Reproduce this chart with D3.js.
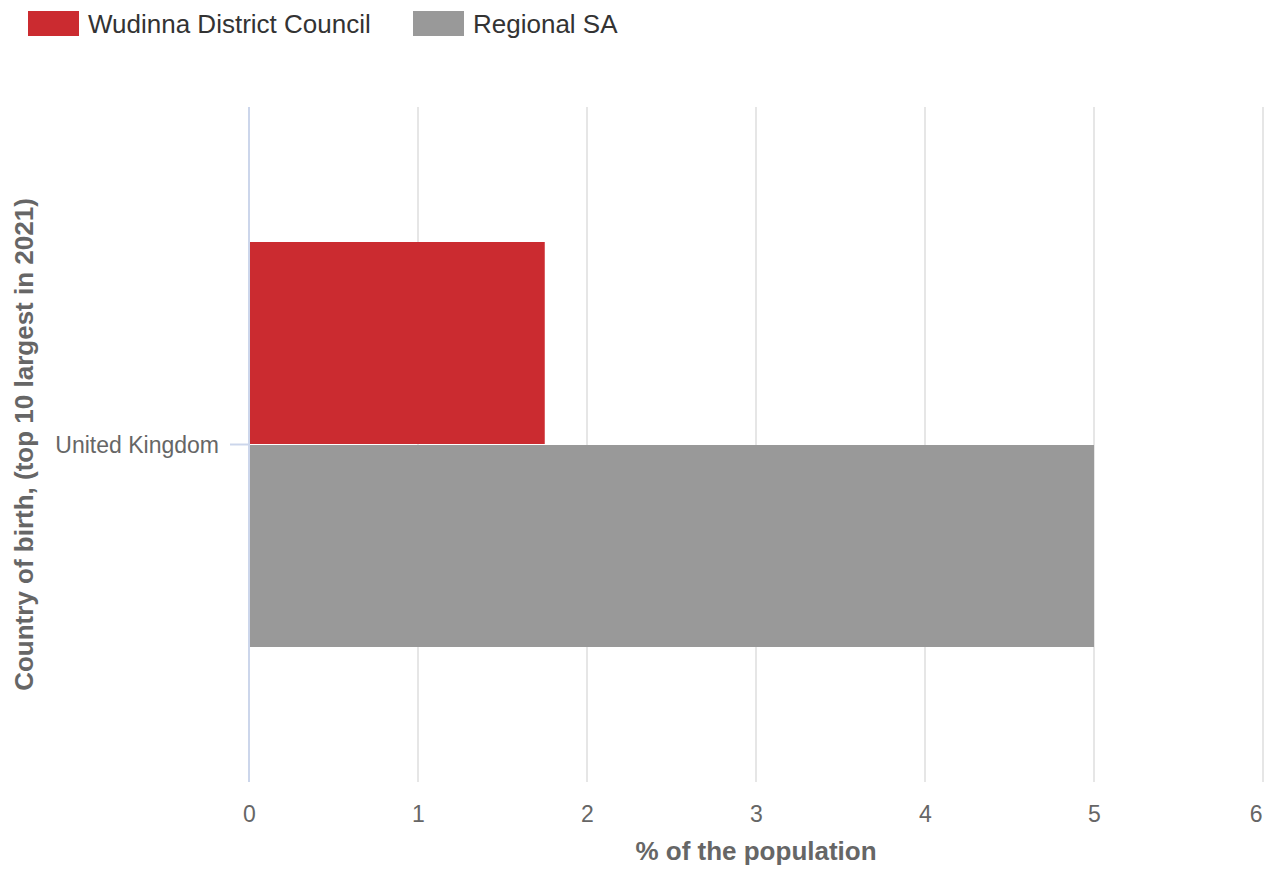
<!DOCTYPE html>
<html>
<head>
<meta charset="utf-8">
<script src="https://cdn.jsdelivr.net/npm/d3@7"></script>
<style>
  html, body { margin: 0; padding: 0; background: #fff; }
  svg { display: block; font-family: "Liberation Sans", Arial, Helvetica, sans-serif; }
</style>
</head>
<body>
<svg id="chart" width="1269" height="870"></svg>
<script>
const categories = ["United Kingdom"];
const seriesNames = ["Wudinna District Council", "Regional SA"];
const wudinnaValues = [1.75];
const regionalValues = [5.0];
const xTicks = [0, 1, 2, 3, 4, 5, 6];
const seriesColors = ["#cb2b30", "#999999"];
const xTitle = "% of the population";
const yTitle = "Country of birth, (top 10 largest in 2021)";

const seriesValues = [wudinnaValues, regionalValues];

const svg = d3.select("#chart");
const plotLeft = 249, plotRight = 1263, plotTop = 107, plotBottom = 782;

const x = d3.scaleLinear().domain([0, 6]).range([plotLeft, plotRight]);
const y0 = d3.scaleBand().domain(categories).range([plotTop, plotBottom]).padding(0.25);
const y1 = d3.scaleBand().domain(seriesNames).range([0, y0.bandwidth()]).paddingInner(0.005);

// gridlines
svg.append("g")
  .selectAll("line")
  .data(xTicks.filter(d => d !== 0))
  .join("line")
  .attr("x1", d => x(d)).attr("x2", d => x(d))
  .attr("y1", plotTop).attr("y2", plotBottom)
  .attr("stroke", "#e6e6e6").attr("stroke-width", 2);

// bars
const groups = svg.append("g").selectAll("g")
  .data(categories)
  .join("g")
  .attr("transform", c => `translate(0,${y0(c)})`);

groups.selectAll("rect")
  .data((c, i) => seriesNames.map((s, j) => ({ s, j, v: seriesValues[j][i] })))
  .join("rect")
  .attr("x", x(0) + 1)
  .attr("y", d => y1(d.s))
  .attr("width", d => x(d.v) - x(0) - 1)
  .attr("height", y1.bandwidth())
  .attr("fill", d => seriesColors[d.j]);

// y axis line
svg.append("line")
  .attr("x1", plotLeft).attr("x2", plotLeft)
  .attr("y1", plotTop).attr("y2", plotBottom)
  .attr("stroke", "#ccd6eb").attr("stroke-width", 2);

// x axis labels
const xAxis = d3.axisBottom(x).tickValues(xTicks).tickSize(0).tickPadding(0).tickFormat(d3.format("d"));
const gx = svg.append("g").attr("transform", `translate(0,${plotBottom})`).call(xAxis);
gx.select(".domain").remove();
gx.selectAll("text")
  .attr("y", 40).attr("dy", null)
  .attr("fill", "#666666")
  .attr("font-size", 23)
  .attr("font-family", "'Liberation Sans', Arial, sans-serif");
// keep the last label inside the chart, as the original does
gx.selectAll(".tick").filter(d => d === xTicks[xTicks.length - 1]).select("text")
  .attr("text-anchor", "end").attr("x", -1);

// y axis labels
const yAxis = d3.axisLeft(y0).tickSize(19).tickPadding(11);
const gy = svg.append("g").attr("transform", `translate(${plotLeft},0)`).call(yAxis);
gy.select(".domain").remove();
gy.selectAll(".tick line").attr("stroke", "#ccd6eb").attr("stroke-width", 2);
gy.selectAll("text")
  .attr("fill", "#666666")
  .attr("font-size", 23)
  .attr("dy", "0.35em")
  .attr("font-family", "'Liberation Sans', Arial, sans-serif");

// axis titles
svg.append("text")
  .attr("x", (plotLeft + plotRight) / 2).attr("y", 860)
  .attr("text-anchor", "middle")
  .attr("font-size", 26).attr("font-weight", "bold")
  .attr("fill", "#666666")
  .text(xTitle);

svg.append("text")
  .attr("transform", `translate(33,${(plotTop + plotBottom) / 2}) rotate(-90)`)
  .attr("text-anchor", "middle")
  .attr("font-size", 26).attr("font-weight", "bold")
  .attr("fill", "#666666")
  .text(yTitle);

// legend
const legendX = [28, 413];
const lg = svg.append("g").selectAll("g")
  .data(seriesNames)
  .join("g")
  .attr("transform", (d, i) => `translate(${legendX[i]},11)`);
lg.append("rect").attr("width", 51).attr("height", 25).attr("fill", (d, i) => seriesColors[i]);
lg.append("text").attr("x", 60).attr("y", 22).attr("font-size", 26).attr("fill", "#333333").text(d => d);
</script>
</body>
</html>
